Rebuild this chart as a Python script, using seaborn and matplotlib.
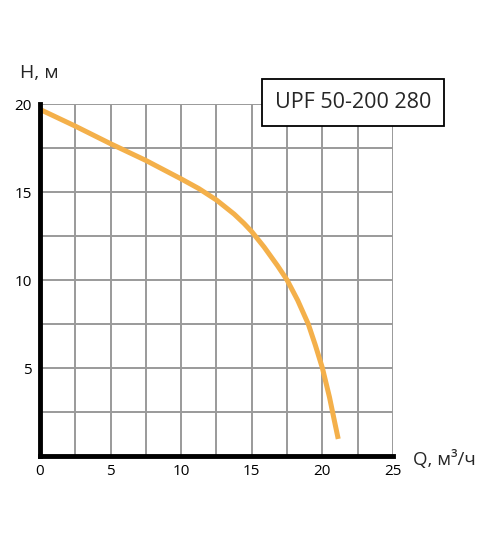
import numpy as np
import pandas as pd
import seaborn as sns
import matplotlib.pyplot as plt

# pump curve
q_flow = [0, 2.5, 5, 7.5, 10, 11.25, 12.5, 13.75, 14.45, 15, 15.87, 16.82, 17.5,
          18.25, 19.0, 19.5, 20.0, 20.5, 20.85, 21.12]
h_head = [19.7, 18.75, 17.75, 16.8, 15.75, 15.2, 14.55, 13.75, 13.22, 12.75, 11.88, 10.82, 10.0,
          8.85, 7.5, 6.3, 5.0, 3.35, 2.0, 0.97]
x_ticks = [0, 5, 10, 15, 20, 25]
y_ticks = [5, 10, 15, 20]
model_name = "UPF 50-200 280"

sns.set_style("white")
plt.rcParams['font.family'] = ['Open Sans', 'DejaVu Sans']

df = pd.DataFrame({'Q': q_flow, 'H': h_head})

fig = plt.figure(figsize=(5, 5.38), dpi=100)
ax = fig.add_axes([0.08, 0.1524, 0.706, 0.654])

sns.lineplot(data=df, x='Q', y='H', ax=ax, sort=False, color='#F4B04A',
             linewidth=3.6, solid_capstyle='butt', solid_joinstyle='round', zorder=3)

ax.set_xlim(0, 25)
ax.set_ylim(0, 20)
grid_x = np.arange(0, 25.1, 2.5)
grid_y = np.arange(0, 20.1, 2.5)
ax.set_xticks(grid_x)
ax.set_yticks(grid_y)
ax.set_xticklabels([str(int(v)) if v in x_ticks else '' for v in grid_x])
ax.set_yticklabels([str(int(v)) if v in y_ticks else '' for v in grid_y])
ax.tick_params(length=0, labelsize=11, colors='black', pad=6)
ax.grid(True, color='#9a9a9a', linewidth=1.4)
ax.set_axisbelow(True)

for s in ['top', 'right']:
    ax.spines[s].set_visible(False)
for s in ['left', 'bottom']:
    ax.spines[s].set_color('black')
    ax.spines[s].set_linewidth(3.5)
    ax.spines[s].set_zorder(4)

ax.set_xlabel('')
ax.set_ylabel('')

fig.text(0.04, 0.865, 'H, м', fontsize=14, ha='left', va='center')
fig.text(0.826, 0.145, 'Q, м³/ч', fontsize=13.5, ha='left', va='center')

fig.text(0.706, 0.8095, model_name, fontsize=15.5, ha='center', va='center',
         bbox=dict(boxstyle='square,pad=0.6', facecolor='white', edgecolor='black', linewidth=1.3))

fig.savefig('out.png', dpi=100)
